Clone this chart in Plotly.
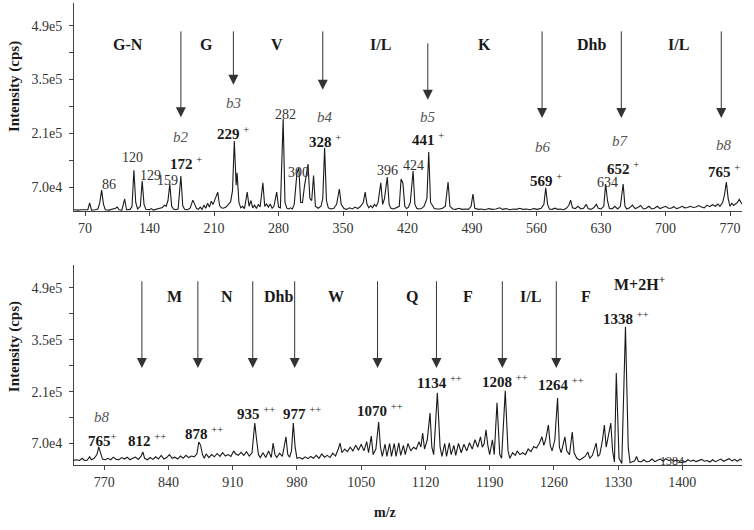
import plotly.graph_objects as go

# ---------------- data (intensity in units of 1e4 cps) ----------------
top_mz = [58, 62, 66, 70, 73, 75, 77, 81, 84, 86, 88, 90, 92, 96, 100, 103, 105, 107, 110, 113, 115, 119, 121, 123, 125, 127, 130, 132, 134, 136, 140, 142, 144, 148, 151, 154, 156, 158, 160, 162, 164, 166, 168, 171, 174, 176, 178, 181, 184, 187, 189, 191, 193, 195, 197, 199, 201, 203, 205, 207, 209, 211, 214, 216, 218, 220, 223, 226, 228, 230, 232, 234, 235, 237, 239, 241, 243, 246, 248, 250, 252, 254, 256, 258, 260, 263, 265, 267, 269, 271, 273, 275, 278, 280, 282, 285, 287, 289, 291, 293, 295, 297, 300, 302, 304, 306, 308, 312, 314, 316, 318, 320, 323, 326, 328, 330, 332, 334, 337, 340, 343, 346, 348, 351, 354, 357, 360, 363, 366, 369, 372, 374, 376, 378, 380, 382, 384, 386, 388, 391, 393, 395, 398, 400, 402, 405, 408, 411, 413, 415, 417, 419, 421, 423, 426, 428, 430, 432, 435, 438, 441, 443, 445, 447, 449, 452, 455, 458, 461, 464, 466, 469, 472, 476, 479, 483, 486, 489, 491, 493, 497, 500, 504, 508, 512, 516, 520, 523, 527, 531, 535, 538, 542, 545, 549, 553, 557, 561, 565, 568, 570, 572, 574, 577, 580, 583, 586, 589, 592, 595, 597, 599, 602, 605, 608, 611, 614, 616, 619, 622, 625, 627, 630, 633, 635, 637, 639, 642, 645, 648, 651, 654, 656, 658, 661, 664, 667, 670, 673, 676, 679, 682, 685, 688, 691, 694, 697, 700, 703, 706, 709, 712, 715, 718, 721, 724, 727, 730, 733, 736, 739, 742, 745, 748, 751, 754, 757, 759, 762, 764, 766, 768, 770, 772, 774, 776, 778, 780, 782, 784, 786]
top_int = [1.1, 1.0, 1.1, 1.0, 1.1, 2.9, 1.0, 1.1, 1.3, 3.0, 6.2, 2.5, 1.1, 1.0, 1.2, 1.5, 1.8, 1.1, 1.0, 3.9, 1.1, 1.2, 2.0, 11.4, 3.0, 1.3, 2.0, 8.6, 2.5, 1.2, 1.1, 1.4, 1.0, 1.2, 1.5, 1.7, 2.3, 2.0, 3.5, 7.8, 2.0, 1.3, 1.1, 1.3, 9.9, 2.2, 1.2, 1.1, 1.5, 3.6, 2.5, 1.4, 1.2, 1.8, 1.2, 2.3, 1.5, 2.8, 1.8, 3.3, 2.5, 3.8, 5.7, 2.2, 1.6, 1.5, 1.8, 2.6, 3.2, 6.0, 19.0, 7.5, 10.7, 3.0, 1.6, 2.0, 1.4, 5.7, 2.0, 3.5, 1.6, 2.3, 1.4, 2.5, 1.8, 8.1, 2.0, 2.6, 1.8, 2.6, 1.5, 2.0, 5.7, 1.8, 1.6, 24.7, 3.0, 1.5, 1.3, 1.6, 1.3, 2.5, 10.7, 12.0, 3.0, 3.0, 7.0, 13.0, 4.0, 3.5, 10.0, 2.0, 1.5, 2.0, 4.0, 17.2, 3.5, 1.6, 1.3, 1.5, 2.5, 6.5, 2.5, 1.4, 1.2, 1.6, 1.3, 1.8, 1.4, 2.0, 3.0, 5.7, 2.5, 1.6, 2.2, 1.6, 2.5, 2.0, 3.0, 8.1, 2.5, 4.0, 9.6, 2.5, 1.5, 1.3, 1.6, 2.0, 9.1, 8.0, 2.0, 1.4, 1.8, 3.0, 11.2, 2.5, 1.5, 1.3, 1.4, 2.0, 4.0, 16.1, 3.0, 2.0, 1.4, 1.3, 1.3, 1.5, 2.0, 8.3, 2.0, 1.3, 1.2, 1.5, 1.2, 1.3, 1.2, 2.0, 5.2, 1.5, 1.2, 1.3, 1.1, 1.4, 1.2, 1.3, 1.6, 1.2, 1.4, 1.1, 1.3, 1.2, 1.5, 1.2, 1.3, 1.1, 1.4, 1.2, 1.5, 2.5, 6.8, 2.5, 1.3, 1.2, 1.5, 1.2, 1.3, 1.1, 1.4, 2.2, 3.6, 1.6, 1.4, 2.0, 1.3, 1.5, 2.5, 1.4, 1.2, 1.6, 2.5, 1.5, 1.3, 2.0, 7.8, 3.5, 1.5, 1.3, 2.0, 1.3, 2.0, 7.8, 2.0, 1.3, 1.6, 2.3, 1.4, 1.7, 2.2, 1.3, 1.5, 2.0, 1.3, 1.5, 2.0, 1.4, 1.6, 2.0, 1.5, 1.5, 1.9, 1.4, 1.6, 2.0, 1.6, 1.7, 2.0, 1.7, 1.8, 2.2, 1.8, 1.6, 2.3, 1.9, 2.4, 2.0, 2.6, 2.0, 3.0, 5.0, 8.3, 4.0, 2.0, 2.8, 2.2, 2.5, 3.0, 3.8, 3.0, 2.2, 2.8]

bot_mz = [737, 740, 743, 746, 748, 751, 754, 756, 759, 762, 764, 766, 768, 771, 774, 777, 780, 783, 786, 789, 792, 795, 798, 801, 804, 807, 810, 812, 814, 817, 820, 823, 826, 829, 832, 835, 838, 841, 844, 847, 850, 853, 856, 859, 862, 865, 868, 871, 873, 875, 877, 879, 881, 884, 887, 890, 893, 896, 899, 902, 905, 908, 911, 913, 916, 919, 922, 925, 928, 931, 934, 936, 938, 940, 943, 946, 949, 952, 954, 956, 958, 961, 964, 966, 968, 970, 972, 974, 976, 978, 980, 983, 986, 989, 992, 995, 998, 1001, 1004, 1007, 1010, 1013, 1016, 1019, 1022, 1025, 1027, 1029, 1032, 1035, 1038, 1041, 1044, 1047, 1050, 1053, 1056, 1058, 1061, 1063, 1066, 1069, 1071, 1073, 1076, 1078, 1081, 1083, 1086, 1088, 1091, 1093, 1096, 1098, 1101, 1104, 1107, 1110, 1113, 1115, 1117, 1119, 1122, 1125, 1127, 1129, 1133, 1136, 1138, 1141, 1143, 1146, 1148, 1151, 1153, 1156, 1159, 1162, 1165, 1168, 1171, 1174, 1177, 1180, 1182, 1184, 1186, 1188, 1190, 1193, 1195, 1198, 1201, 1203, 1207, 1210, 1212, 1215, 1218, 1220, 1223, 1226, 1229, 1232, 1235, 1238, 1241, 1244, 1247, 1249, 1251, 1254, 1256, 1258, 1261, 1264, 1266, 1268, 1272, 1274, 1277, 1280, 1282, 1285, 1288, 1291, 1294, 1297, 1299, 1302, 1306, 1308, 1310, 1313, 1315, 1317, 1319, 1322, 1324, 1326, 1328, 1331, 1334, 1338, 1341, 1343, 1345, 1348, 1350, 1352, 1355, 1358, 1361, 1364, 1367, 1370, 1373, 1376, 1379, 1382, 1385, 1388, 1391, 1394, 1397, 1400, 1403, 1406, 1409, 1412, 1415, 1418, 1421, 1424, 1427, 1430, 1433, 1436, 1439, 1442, 1445, 1448, 1451, 1454, 1457, 1460, 1463, 1466]
bot_int = [2.5, 2.6, 2.4, 3.0, 2.5, 2.4, 3.4, 2.6, 3.0, 4.0, 6.1, 4.5, 2.8, 2.6, 3.0, 2.6, 3.3, 2.7, 2.6, 3.2, 2.8, 3.3, 2.6, 3.0, 3.3, 2.7, 3.5, 4.7, 3.0, 2.6, 3.2, 2.7, 3.4, 2.8, 3.8, 2.8, 3.2, 4.0, 3.0, 3.3, 2.8, 3.6, 3.0, 3.8, 3.2, 3.6, 3.4, 4.2, 7.4, 6.5, 4.0, 3.0, 4.2, 3.2, 4.0, 3.4, 4.3, 3.5, 4.5, 3.6, 4.0, 3.5, 5.0, 4.2, 3.8, 4.6, 3.8, 4.8, 3.6, 4.5, 12.5, 8.0, 4.0, 3.2, 4.5, 3.2, 5.0, 3.2, 7.1, 4.0, 3.2, 4.4, 3.5, 6.0, 8.8, 4.0, 3.3, 5.0, 12.5, 6.0, 3.0, 3.2, 2.8, 3.4, 2.9, 3.5, 3.0, 3.8, 3.0, 4.2, 3.3, 3.8, 3.2, 4.4, 3.6, 5.5, 7.1, 4.5, 5.5, 4.8, 6.0, 5.0, 6.5, 5.2, 6.8, 5.0, 7.5, 4.5, 9.0, 4.0, 5.5, 12.8, 6.0, 3.5, 6.8, 3.5, 7.0, 3.5, 7.0, 3.5, 7.2, 3.8, 6.5, 4.0, 7.0, 5.0, 6.0, 5.5, 7.5, 6.0, 9.8, 5.5, 8.0, 15.2, 6.0, 4.0, 20.7, 6.0, 3.5, 7.0, 3.5, 7.2, 4.0, 6.5, 3.8, 7.0, 4.5, 6.8, 5.0, 7.2, 5.5, 8.0, 6.0, 8.8, 6.0, 7.0, 10.7, 6.5, 4.0, 8.0, 4.0, 18.0, 4.0, 3.0, 21.2, 5.0, 3.0, 4.5, 3.8, 5.0, 4.0, 4.5, 4.0, 5.5, 4.8, 6.2, 5.8, 7.0, 8.8, 6.5, 8.0, 12.0, 6.5, 5.0, 8.0, 19.3, 6.0, 4.5, 8.8, 5.0, 4.0, 10.1, 4.5, 3.0, 2.5, 3.0, 3.5, 4.7, 3.0, 3.8, 7.1, 3.5, 4.0, 8.0, 12.0, 6.0, 9.0, 12.5, 5.0, 2.0, 26.0, 3.0, 1.6, 38.5, 6.0, 1.8, 2.0, 2.3, 3.5, 2.2, 2.0, 2.6, 2.0, 2.2, 2.8, 2.1, 2.5, 2.8, 2.2, 2.9, 2.4, 2.6, 2.3, 2.5, 2.2, 2.4, 2.0, 2.6, 2.2, 2.5, 2.1, 2.3, 2.7, 2.2, 2.4, 2.0, 2.6, 2.1, 2.5, 2.8, 2.2, 2.5, 2.9, 2.3, 2.7, 2.2, 2.8, 2.4]

y_tickvals = [7, 21, 35, 49]
y_ticktext = ["7.0e4", "2.1e5", "3.5e5", "4.9e5"]
y_minorvals = [14, 28, 42]
top_xticks = [70, 140, 210, 280, 350, 420, 490, 560, 630, 700, 770]
bot_xticks = [770, 840, 910, 980, 1050, 1120, 1190, 1260, 1330, 1400]

# residue labels: (text, m/z, intensity)
top_residues = [("G-N", 117, 44.0), ("G", 202, 44.0), ("V", 278, 44.0), ("I/L", 391, 44.0),
                ("K", 504, 44.0), ("Dhb", 620, 44.0), ("I/L", 714, 44.0)]
bot_residues = [("M", 847, 46.6), ("N", 903.5, 46.6), ("Dhb", 960, 46.6), ("W", 1023, 46.6),
                ("Q", 1105, 46.6), ("F", 1166, 46.6), ("I/L", 1235, 46.6), ("F", 1295, 46.6),
                ("M+2H<sup>+</sup>", 1353, 50.4)]
# arrows: (m/z, start intensity, end intensity)
top_arrows = [(174, 47.9, 25.2), (231, 47.9, 33.6), (328, 47.9, 32.3), (442, 44.8, 29.7),
              (566, 47.9, 25.0), (652, 47.9, 25.0), (760.5, 47.9, 25.0)]
bot_arrows = [(811, 51.2, 27.4), (872, 51.2, 27.4), (931.8, 51.2, 27.4), (977.5, 51.2, 27.4),
              (1067.8, 51.2, 27.4), (1132, 51.2, 27.4), (1203.8, 51.2, 27.4), (1262.6, 51.2, 27.4)]
# b-ion labels
top_b = [("b2", 174, 20.0), ("b3", 231, 28.9), ("b4", 330.5, 25.2), ("b5", 442, 25.2),
         ("b6", 567, 17.4), ("b7", 651, 19.0), ("b8", 763, 18.0)]
bot_b = [("b8", 767.5, 14.2)]
# bold peak labels
top_bold = [("172", " <sup>+</sup>", 179.6, 13.3), ("229", " <sup>+</sup>", 231, 21.1),
            ("328", " <sup>+</sup>", 330.5, 19.0), ("441", " <sup>+</sup>", 442, 19.5),
            ("569", " <sup>+</sup>", 570.5, 8.8), ("652", " <sup>+</sup>", 654, 12.0),
            ("765", " <sup>+</sup>", 764, 11.2)]
bot_bold = [("765", "<sup>+</sup>", 768.5, 7.9), ("812", " <sup>++</sup>", 816.4, 7.9),
            ("878", " <sup>++</sup>", 878.5, 9.8), ("935", " <sup>++</sup>", 935, 15.2),
            ("977", " <sup>++</sup>", 985, 15.2), ("1070", " <sup>++</sup>", 1071, 16.1),
            ("1134", " <sup>++</sup>", 1135, 23.6), ("1208", " <sup>++</sup>", 1207, 23.9),
            ("1264", " <sup>++</sup>", 1268, 23.1), ("1338", " <sup>++</sup>", 1339, 40.9)]
# plain peak labels
top_plain = [("86", 96, 7.8), ("120", 122, 14.8), ("129", 140.5, 9.9), ("159", 160, 8.6),
             ("282", 287, 25.8), ("300", 302, 10.7), ("396", 398, 11.4), ("424", 426, 12.7),
             ("634", 636.7, 8.1)]
bot_plain = [("1384", 1388.8, 2.3)]

# ---------------- figure ----------------
SERIF = "Liberation Serif"
fig = go.Figure()
fig.add_trace(go.Scatter(x=top_mz, y=top_int, mode="lines", line=dict(color="#1a1a1a", width=1.1),
                         xaxis="x", yaxis="y", showlegend=False, hoverinfo="skip"))
fig.add_trace(go.Scatter(x=bot_mz, y=bot_int, mode="lines", line=dict(color="#1a1a1a", width=1.1),
                         xaxis="x2", yaxis="y2", showlegend=False, hoverinfo="skip"))

ann = []
def add_text(text, x, y, xr, yr, size, color="#1a1a1a", **kw):
    ann.append(dict(text=text, x=x, y=y, xref=xr, yref=yr, showarrow=False,
                    xanchor="center", yanchor="middle",
                    font=dict(family=SERIF, size=size, color=color), **kw))

for axes, residues, arrows, bs, bolds, plains in [
        (("x", "y"), top_residues, top_arrows, top_b, top_bold, top_plain),
        (("x2", "y2"), bot_residues, bot_arrows, bot_b, bot_bold, bot_plain)]:
    xr, yr = axes
    for t, m, i in residues:
        add_text("<b>%s</b>" % t, m, i, xr, yr, 16)
    for m, i0, i1 in arrows:
        ann.append(dict(x=m, y=i1, ax=m, ay=i0, xref=xr, yref=yr, axref=xr, ayref=yr,
                        text="", showarrow=True, arrowhead=2, arrowsize=2, arrowwidth=1,
                        arrowcolor="#333333"))
    for t, m, i in bs:
        add_text("<i>%s</i>" % t, m, i, xr, yr, 15, color="#555555")
    for num, sup, m, i in bolds:
        add_text("<b>%s</b>%s" % (num, sup), m, i, xr, yr, 15)
    for t, m, i in plains:
        add_text(t, m, i, xr, yr, 14 if xr == "x" else 12, color="#333333")

# axis titles
for yc in (0.818, 0.255):
    ann.append(dict(text="<b>Intensity (cps)</b>", x=-0.0898, y=yc, xref="paper", yref="paper",
                    xanchor="center", yanchor="middle",
                    textangle=-90, showarrow=False, font=dict(family=SERIF, size=15, color="#1a1a1a")))
ann.append(dict(text="<b>m/z</b>", x=0.466, y=-0.102, xref="paper", yref="paper", showarrow=False,
                xanchor="center", yanchor="middle",
                font=dict(family=SERIF, size=14, color="#1a1a1a")))

xcommon = dict(showline=True, linecolor="#444", linewidth=1, ticks="outside", ticklen=4,
               tickcolor="#444", showgrid=False, zeroline=False, tickmode="array", automargin=False,
               tickfont=dict(family=SERIF, size=14, color="#333"))
ycommon = dict(showline=True, linecolor="#444", linewidth=1, ticks="outside", ticklen=4,
               tickcolor="#444", showgrid=False, zeroline=False, tickmode="array", automargin=False,
               tickvals=y_tickvals, ticktext=y_ticktext,
               minor=dict(tickvals=y_minorvals, ticks="outside", ticklen=4, tickcolor="#444"),
               tickfont=dict(family=SERIF, size=14, color="#333"), ticklabelstandoff=4)

fig.update_layout(
    width=754, height=530, margin=dict(l=74, r=12, t=3, b=65, autoexpand=False),
    paper_bgcolor="white", plot_bgcolor="white",
    xaxis=dict(domain=[0, 1], anchor="y", range=[58, 783], tickvals=top_xticks, **xcommon),
    yaxis=dict(domain=[0.55, 1.0], anchor="x", range=[0.8, 54.9], **ycommon),
    xaxis2=dict(domain=[0, 1], anchor="y2", range=[737, 1465], tickvals=bot_xticks, **xcommon),
    yaxis2=dict(domain=[0.0, 0.433], anchor="x2", range=[1.19, 55.2], **ycommon),
    annotations=ann,
)

fig.write_html("out.html", config={"displayModeBar": False},
               post_script="document.body.style.margin='0px';")
